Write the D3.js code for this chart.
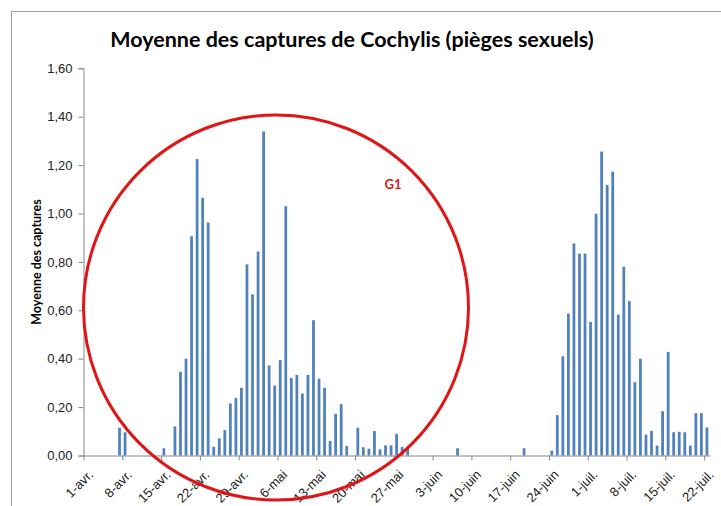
<!DOCTYPE html>
<html>
<head>
<meta charset="utf-8">
<script src="https://cdn.jsdelivr.net/npm/d3@7"></script>
<style>
  body { margin: 0; background: #fff; }
  svg { display: block; font-family: Lato, "Open Sans", sans-serif; }
</style>
</head>
<body>
<svg id="viz" width="721" height="506"></svg>
<script>
// daily mean catches, one value per day (0 = no catch)
var avril = [0, 0, 0, 0, 0, 0, 0.115, 0.096, 0, 0, 0, 0, 0, 0, 0.03, 0, 0.12, 0.346, 0.4, 0.906,
  1.225, 1.065, 0.963, 0.036, 0.071, 0.105, 0.215, 0.238, 0.28, 0.79];
var mai = [0.666, 0.843, 1.339, 0.372, 0.289, 0.394, 1.03, 0.32, 0.333, 0.256, 0.333, 0.559, 0.317,
  0.28, 0.06, 0.172, 0.212, 0.039, 0, 0.115, 0.034, 0.028, 0.101, 0.025, 0.042, 0.042, 0.089,
  0.035, 0.03, 0, 0];
var juin = [0, 0, 0, 0, 0, 0, 0.03, 0, 0, 0, 0, 0, 0, 0, 0, 0, 0, 0, 0.03, 0, 0, 0, 0, 0.02,
  0.167, 0.41, 0.586, 0.876, 0.834, 0.834];
var juillet = [0.552, 0.999, 1.256, 1.118, 1.173, 0.582, 0.78, 0.638, 0.303, 0.4, 0.086, 0.102,
  0.041, 0.183, 0.428, 0.096, 0.098, 0.096, 0.041, 0.175, 0.175, 0.116];

var tickLabels = ["1-avr.", "8-avr.", "15-avr.", "22-avr.", "29-avr.", "6-mai", "13-mai", "20-mai",
  "27-mai", "3-juin", "10-juin", "17-juin", "24-juin", "1-juil.", "8-juil.", "15-juil.", "22-juil."];
var yTicks = [0, 0.2, 0.4, 0.6, 0.8, 1.0, 1.2, 1.4, 1.6];

var title = "Moyenne des captures de Cochylis (pièges sexuels)";
var yTitle = "Moyenne des captures";
var groupLabel = "G1";

var svg = d3.select("#viz");
var start = new Date(2014, 3, 1);
var end = new Date(2014, 6, 23);
var days = d3.timeDay.range(start, end);
var values = avril.concat(mai, juin, juillet);
var data = days.map(function (d, i) {
  return { date: d, value: values[i] };
});

var plot = { left: 83.5, right: 709.7, bottom: 455.5, top: 68.3 };

var xTime = d3.scaleTime().domain([start, end]).range([plot.left, plot.right]);
var x = d3.scaleBand()
  .domain(days.map(function (d) { return +d; }))
  .range([plot.left, plot.right])
  .paddingInner(0.5)
  .paddingOuter(0.25);
var y = d3.scaleLinear().domain([0, 1.6]).range([plot.bottom, plot.top]);

// outer frame (only top/left visible)
svg.append("rect")
  .attr("x", 11.5).attr("y", 11.5)
  .attr("width", 900).attr("height", 700)
  .attr("fill", "none")
  .attr("stroke", "#a0a0a0");

// title
svg.append("text")
  .attr("x", 352).attr("y", 47)
  .attr("text-anchor", "middle")
  .style("font-size", "21.5px")
  .style("font-weight", "bold")
  .attr("fill", "#000")
  .text(title);

// bars
svg.append("g")
  .selectAll("rect")
  .data(data.filter(function (d) { return d.value > 0; }))
  .enter()
  .append("rect")
  .attr("x", function (d) { return x(+d.date); })
  .attr("width", x.bandwidth())
  .attr("y", function (d) { return y(d.value); })
  .attr("height", function (d) { return plot.bottom - y(d.value); })
  .attr("fill", "#4f81bd");

// y axis
var yAxis = svg.append("g")
  .attr("transform", "translate(" + plot.left + ",0)")
  .call(d3.axisLeft(y).tickValues(yTicks).tickSize(5).tickPadding(6)
    .tickFormat(function (d) { return d3.format(".2f")(d).replace(".", ","); }));
yAxis.selectAll("path, line").attr("stroke", "#868686");
yAxis.selectAll("text").style("font-size", "13px").attr("fill", "#222");

// x axis
var xAxis = svg.append("g")
  .attr("transform", "translate(0," + plot.bottom + ")")
  .call(d3.axisBottom(xTime)
    .tickValues(d3.timeDay.range(start, end, 7))
    .tickSize(5)
    .tickSizeOuter(0)
    .tickFormat(function (d, i) { return tickLabels[i]; }));
xAxis.selectAll("path, line").attr("stroke", "#868686");
xAxis.selectAll("text")
  .style("font-size", "13px")
  .attr("fill", "#222")
  .attr("text-anchor", "end")
  .attr("x", 0).attr("y", 0).attr("dy", 0)
  .attr("transform", "translate(10,20) rotate(-45)");

// y axis title
svg.append("text")
  .attr("transform", "translate(41,262) rotate(-90)")
  .attr("text-anchor", "middle")
  .style("font-size", "12.5px")
  .style("font-weight", "bold")
  .attr("fill", "#000")
  .text(yTitle);

// G1 annotation
svg.append("circle")
  .attr("cx", 276).attr("cy", 307.5).attr("r", 192.5)
  .attr("fill", "none")
  .attr("stroke", "#e01515")
  .attr("stroke-width", 3);

svg.append("text")
  .attr("x", 393).attr("y", 189)
  .attr("text-anchor", "middle")
  .style("font-size", "13px")
  .style("font-weight", "bold")
  .attr("fill", "#e01515")
  .text(groupLabel);
</script>
</body>
</html>
